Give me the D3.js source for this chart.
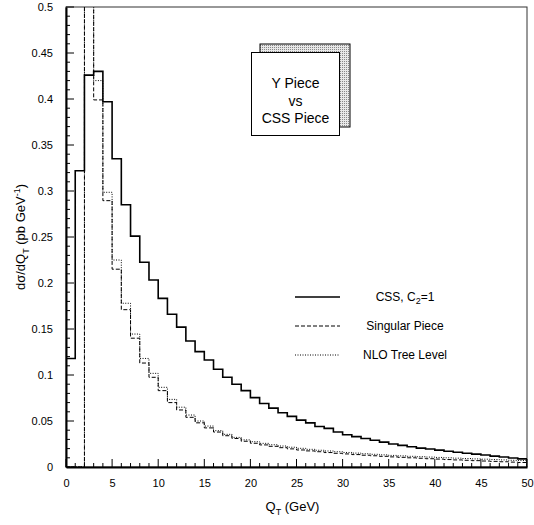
<!DOCTYPE html>
<html>
<head>
<meta charset="utf-8">
<script src="https://cdn.jsdelivr.net/npm/d3@7"></script>
<style>
  body { margin: 0; background: #fff; }
  text { font-family: "Liberation Sans", Arial, sans-serif; fill: #000; }
</style>
</head>
<body>
<div id="chart"></div>
<script>
// bin lower edges in GeV (1 GeV wide bins, 0..50)
var binEdges = d3.range(0, 51, 1);

// CSS, C2=1 (solid)
var cssValues = [0.118, 0.322, 0.426, 0.430, 0.397, 0.335, 0.285, 0.251, 0.2225, 0.2033,
                 0.1833, 0.166, 0.152, 0.137, 0.1254, 0.1163, 0.1062, 0.0975, 0.0899, 0.083,
                 0.0754, 0.069, 0.064, 0.059, 0.055, 0.051, 0.048, 0.044, 0.042, 0.038,
                 0.035, 0.033, 0.031, 0.029, 0.027, 0.025, 0.0235, 0.022, 0.0205, 0.0195,
                 0.0183, 0.0172, 0.016, 0.015, 0.014, 0.013, 0.0118, 0.0108, 0.0098, 0.0088];

// Singular Piece (dashed)
var singularValues = [0, 0, 0.55, 0.399, 0.2895, 0.215, 0.171, 0.140, 0.113, 0.0975,
                      0.083, 0.070, 0.062, 0.054, 0.048, 0.0425, 0.038, 0.034, 0.031, 0.028,
                      0.0258, 0.024, 0.0225, 0.021, 0.0197, 0.0185, 0.0175, 0.0166, 0.0157, 0.0149,
                      0.0142, 0.0135, 0.0128, 0.0122, 0.0116, 0.011, 0.0105, 0.010, 0.0095, 0.009,
                      0.0086, 0.0081, 0.0077, 0.0073, 0.0069, 0.0065, 0.0061, 0.0057, 0.0053, 0.0049];

// NLO Tree Level (dotted)
var nloValues = [0, 0, 0.55, 0.42, 0.2986, 0.225, 0.178, 0.1445, 0.118, 0.1018,
                 0.0866, 0.0735, 0.065, 0.0565, 0.050, 0.0445, 0.0395, 0.0355, 0.0322, 0.0295,
                 0.0275, 0.0257, 0.0242, 0.0228, 0.0215, 0.0203, 0.0192, 0.0182, 0.0174, 0.0166,
                 0.0158, 0.0151, 0.0144, 0.0138, 0.0132, 0.0126, 0.0121, 0.0116, 0.0112, 0.0108,
                 0.0104, 0.010, 0.0096, 0.0092, 0.0088, 0.0085, 0.0081, 0.0077, 0.0073, 0.007];

var xTicks = [0, 5, 10, 15, 20, 25, 30, 35, 40, 45, 50];
var yTicks = [0, 0.05, 0.1, 0.15, 0.2, 0.25, 0.3, 0.35, 0.4, 0.45, 0.5];
var legendLabels = ["CSS, C", "Singular Piece", "NLO Tree Level"];
var boxLines = ["Y Piece", "vs", "CSS Piece"];

var W = 534, H = 525;
var margin = {top: 7, right: 7, bottom: 58, left: 66},
    width = W - margin.left - margin.right,
    height = H - margin.top - margin.bottom;

var svg = d3.select("#chart").append("svg")
    .attr("width", W)
    .attr("height", H);

var defs = svg.append("defs");
defs.append("clipPath").attr("id", "plotclip")
  .append("rect").attr("x", 0).attr("y", 0).attr("width", width).attr("height", height);

var pat = defs.append("pattern").attr("id", "stipple")
    .attr("patternUnits", "userSpaceOnUse").attr("width", 2).attr("height", 2);
pat.append("rect").attr("width", 2).attr("height", 2).attr("fill", "#e8e8e8");
pat.append("rect").attr("width", 1).attr("height", 1).attr("fill", "#888");

var g = svg.append("g")
    .attr("transform", "translate(" + margin.left + "," + margin.top + ")");

var x = d3.scaleLinear().domain([0, 50]).range([0, width]);
var y = d3.scaleLinear().domain([0, 0.5]).range([height, 0]);

// frame
g.append("rect")
  .attr("width", width).attr("height", height)
  .attr("fill", "none").attr("stroke", "#333").attr("stroke-width", 1);

// minor ticks
g.selectAll(".xminor").data(d3.range(0, 51, 1)).enter().append("line")
  .attr("x1", function(d) { return x(d); }).attr("x2", function(d) { return x(d); })
  .attr("y1", height).attr("y2", function(d) { return d % 5 === 0 ? height - 8 : height - 4; })
  .attr("stroke", "#000").attr("stroke-width", 1);
g.selectAll(".yminor").data(d3.range(0, 51, 1)).enter().append("line")
  .attr("y1", function(d) { return y(d / 100); }).attr("y2", function(d) { return y(d / 100); })
  .attr("x1", 0).attr("x2", function(d) { return d % 5 === 0 ? 8 : 4; })
  .attr("stroke", "#000").attr("stroke-width", 1);

// axes (labels only, ticks drawn inward above)
var xAxis = g.append("g")
  .attr("transform", "translate(0," + height + ")")
  .call(d3.axisBottom(x).tickValues(xTicks).tickSize(0).tickPadding(12).tickFormat(d3.format("d")));
var yAxis = g.append("g")
  .call(d3.axisLeft(y).tickValues(yTicks).tickSize(0).tickPadding(13)
        .tickFormat(function(d) { return d === 0 ? "0" : String(+d.toFixed(2)); }));
[xAxis, yAxis].forEach(function(a) {
  a.select(".domain").attr("stroke", "#000").attr("stroke-width", 2);
  a.selectAll("text").style("font-size", "11px").style("font-family", "Liberation Sans, Arial, sans-serif");
});

// histograms
function stepPoints(vals) {
  var pts = [[0, 0]];
  vals.forEach(function(v, i) { pts.push([binEdges[i], v]); });
  pts.push([50, vals[vals.length - 1]]);
  pts.push([50, 0]);
  return pts;
}
var line = d3.line()
  .x(function(d) { return x(d[0]); })
  .y(function(d) { return y(d[1]); })
  .curve(d3.curveStepAfter);

var plot = g.append("g").attr("clip-path", "url(#plotclip)");
plot.append("path").datum(stepPoints(nloValues))
  .attr("d", line).attr("fill", "none").attr("stroke", "#000")
  .attr("stroke-width", 1).attr("stroke-dasharray", "1,1.5");
plot.append("path").datum(stepPoints(singularValues))
  .attr("d", line).attr("fill", "none").attr("stroke", "#000")
  .attr("stroke-width", 1).attr("stroke-dasharray", "4,2");
plot.append("path").datum(stepPoints(cssValues))
  .attr("d", line).attr("fill", "none").attr("stroke", "#000")
  .attr("stroke-width", 1.6);

// annotation box with stippled shadow
g.append("rect").attr("x", 194).attr("y", 37).attr("width", 90).attr("height", 83)
  .attr("fill", "url(#stipple)").attr("stroke", "#000").attr("stroke-width", 1);
g.append("rect").attr("x", 185.5).attr("y", 45.5).attr("width", 88).attr("height", 83)
  .attr("fill", "#fff").attr("stroke", "#000").attr("stroke-width", 1);
g.selectAll(".boxtext").data(boxLines).enter().append("text")
  .attr("x", 229.5).attr("y", function(d, i) { return 81 + i * 17.5; })
  .attr("text-anchor", "middle").style("font-size", "14px")
  .text(function(d) { return d; });

// legend
var dashes = [null, "4,2", "1,1.5"];
var leg = g.append("g").attr("transform", "translate(229,290)");
legendLabels.forEach(function(lab, i) {
  leg.append("line").attr("x1", 0).attr("x2", 45)
    .attr("y1", i * 29).attr("y2", i * 29)
    .attr("stroke", "#000").attr("stroke-width", i === 0 ? 1.6 : 1)
    .attr("stroke-dasharray", dashes[i]);
  var t = leg.append("text").attr("x", 110).attr("y", i * 29 + 4)
    .attr("text-anchor", "middle").style("font-size", "12px");
  if (i === 0) {
    t.append("tspan").text(lab);
    t.append("tspan").attr("dy", 3).style("font-size", "9px").text("2");
    t.append("tspan").attr("dy", -3).text("=1");
  } else {
    t.text(lab);
  }
});

// axis titles
var xt = svg.append("text").attr("x", margin.left + width / 2 - 4).attr("y", 511)
  .attr("text-anchor", "middle").style("font-size", "13px");
xt.append("tspan").text("Q");
xt.append("tspan").attr("dy", 4).style("font-size", "9px").text("T");
xt.append("tspan").attr("dy", -4).text(" (GeV)");

var yt = svg.append("text")
  .attr("transform", "translate(25," + (margin.top + height / 2) + ") rotate(-90)")
  .attr("text-anchor", "middle").style("font-size", "13px");
yt.append("tspan").text("d\u03c3/dQ");
yt.append("tspan").attr("dy", 4).style("font-size", "9px").text("T");
yt.append("tspan").attr("dy", -4).text(" (pb GeV");
yt.append("tspan").attr("dy", -5).style("font-size", "9px").text("-1");
yt.append("tspan").attr("dy", 5).text(")");
</script>
</body>
</html>
